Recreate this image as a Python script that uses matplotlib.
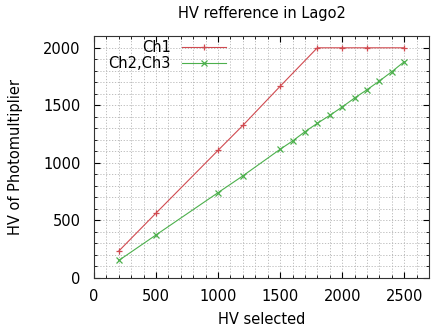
import matplotlib
matplotlib.use("Agg")
import matplotlib.pyplot as plt
from matplotlib.ticker import MultipleLocator

ch1_x = [200, 500, 1000, 1200, 1500, 1800, 2000, 2200, 2500]
ch1_y = [232, 562, 1108, 1325, 1665, 2000, 2000, 2000, 2000]
ch23_x = [200, 500, 1000, 1200, 1500, 1600, 1700, 1800, 1900, 2000, 2100, 2200, 2300, 2400, 2500]
ch23_y = [150, 372, 740, 886, 1117, 1189, 1270, 1343, 1412, 1485, 1563, 1635, 1711, 1792, 1879]

fig = plt.figure(figsize=(4.39, 3.29), dpi=100)
ax = fig.add_axes([94/439, 1-277.7/329, (429-94)/439, (277.7-36.3)/329])

ax.plot(ch1_x, ch1_y, color='#d04a50', lw=0.8, marker='+', ms=5, mew=0.9, label='Ch1')
ax.plot(ch23_x, ch23_y, color='#4cb04c', lw=0.8, marker='x', ms=4, mew=0.9, label='Ch2,Ch3')

ax.set_xlim(0, 2700)
ax.set_ylim(0, 2100)
ax.xaxis.set_major_locator(MultipleLocator(500))
ax.xaxis.set_minor_locator(MultipleLocator(100))
ax.yaxis.set_major_locator(MultipleLocator(500))
ax.yaxis.set_minor_locator(MultipleLocator(100))
ax.grid(True, which='both', color='#b4b4b4', ls=(0, (1.5, 2)), lw=0.6)
ax.tick_params(which='both', direction='in', top=True, right=True, labelsize=10.5)
ax.tick_params(axis='x', pad=8)
ax.tick_params(axis='y', pad=9.5)
ax.tick_params(which='major', length=4)
ax.tick_params(which='minor', length=2)
for s in ax.spines.values():
    s.set_color('#333333')
    s.set_linewidth(0.8)

ax.set_title('HV refference in Lago2', fontsize=10.5, pad=13)
ax.set_xlabel('HV selected', fontsize=10.5, labelpad=6)
ax.set_ylabel('HV of Photomultiplier', fontsize=10.5, labelpad=14.5)

leg = ax.legend(loc='upper left', bbox_to_anchor=(0.003, 1.04), frameon=False,
                markerfirst=False, fontsize=10.5, handlelength=3.0,
                labelspacing=0.08, handletextpad=0.8)
for t in leg.get_texts():
    t.set_ha('right')

fig.savefig('out.png', dpi=100)
